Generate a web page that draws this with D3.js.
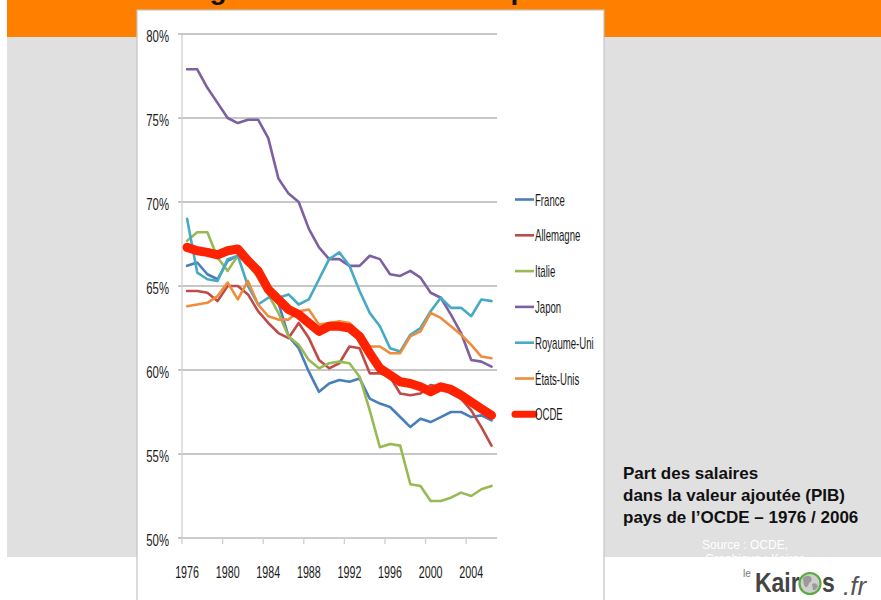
<!DOCTYPE html>
<html><head><meta charset="utf-8">
<script src="https://cdn.jsdelivr.net/npm/d3@7"></script>
<style>html,body{margin:0;padding:0;background:#fff;overflow:hidden}svg{display:block}</style>
</head><body>
<svg id="c" width="881" height="600"></svg>
<script>
const years = [1976,1977,1978,1979,1980,1981,1982,1983,1984,1985,1986,1987,1988,1989,1990,1991,1992,1993,1994,1995,1996,1997,1998,1999,2000,2001,2002,2003,2004,2005,2006];
const xTickLabels = [1976,1980,1984,1988,1992,1996,2000,2004];
const yTicks = [50,55,60,65,70,75,80];
const seriesNames = ["France","Allemagne","Italie","Japon","Royaume-Uni","États-Unis","OCDE"];
const seriesColors = ["#4a7ebb","#be4b48","#98b954","#7d60a0","#46aac5","#ee8c3e","#ff2200"];
const france    = [66.2,66.4,65.7,65.4,66.5,66.8,66.4,65.8,64.9,64.0,62.0,61.3,59.9,58.7,59.2,59.4,59.3,59.5,58.3,58.0,57.8,57.2,56.6,57.1,56.9,57.2,57.5,57.5,57.2,57.3,57.0];
const allemagne = [64.7,64.7,64.6,64.1,65.0,65.0,64.5,63.5,62.8,62.2,61.9,62.8,61.9,60.6,60.1,60.4,61.4,61.3,59.8,59.8,59.6,58.6,58.5,58.6,59.1,59.0,58.6,58.3,57.6,56.6,55.5];
const italie    = [67.7,68.2,68.2,66.7,65.9,66.8,66.3,65.5,64.5,63.4,62.0,61.5,60.6,60.1,60.4,60.5,60.4,59.6,57.6,55.4,55.6,55.5,53.2,53.1,52.2,52.2,52.4,52.7,52.5,52.9,53.1];
const japon     = [77.9,77.9,76.8,75.9,75.0,74.7,74.9,74.9,73.8,71.4,70.5,70.0,68.4,67.3,66.6,66.6,66.2,66.2,66.8,66.6,65.7,65.6,65.9,65.5,64.6,64.3,63.3,62.2,60.6,60.5,60.2];
const royaumeUni= [69.0,65.8,65.4,65.3,66.6,66.8,65.0,63.9,64.3,64.3,64.5,63.9,64.2,65.4,66.6,67.0,66.2,64.7,63.4,62.6,61.3,61.1,62.1,62.5,63.5,64.3,63.7,63.7,63.2,64.2,64.1];
const etatsUnis = [63.8,63.9,64.0,64.4,65.2,64.2,65.3,63.9,63.2,63.0,63.0,63.5,63.6,62.7,62.8,62.9,62.8,62.2,61.4,61.4,61.0,61.0,62.0,62.3,63.4,63.1,62.6,62.1,61.5,60.8,60.7];
const ocde      = [67.3,67.1,67.0,66.85,67.1,67.2,66.5,65.9,64.8,64.2,63.6,63.3,62.8,62.3,62.6,62.6,62.5,62.0,61.0,60.1,59.7,59.3,59.2,59.0,58.7,59.0,58.85,58.5,58.1,57.7,57.3];
const seriesValues = [france,allemagne,italie,japon,royaumeUni,etatsUnis,ocde];
const boxLines = ["Part des salaires","dans la valeur ajoutée (PIB)","pays de l’OCDE – 1976 / 2006"];
const sourceLines = ["Source : OCDE,","Graphique : Kairos"];

const svg = d3.select("#c");
const FONT = "'Liberation Sans', Arial, sans-serif";

// slide background
svg.append("rect").attr("x",7).attr("y",0).attr("width",874).attr("height",37).attr("fill","#ff7f00");
svg.append("rect").attr("x",7).attr("y",37).attr("width",874).attr("height",520).attr("fill","#e0e0e0");

// slide title (only its descenders are visible at the top edge)
const p1 = "Une baisse générale", p2 = " en Europe";
const tt = svg.append("text").attr("y",-1).attr("font-family",FONT).attr("font-weight","bold")
  .attr("font-size",28).attr("fill","#111");
const s1 = tt.append("tspan").attr("x",0).text(p1);
const s2 = tt.append("tspan").text(p2);
(function(){
  const n = tt.node();
  const gi = p1.indexOf("g");
  const ge = n.getExtentOfChar(gi);
  const s2start = n.getStartPositionOfChar(p1.length).x;
  const pi = p1.length + p2.indexOf("p");
  const pe = n.getExtentOfChar(pi);
  s1.attr("x", 218 - (ge.x + ge.width/2));
  s2.attr("x", 519 - (pe.x + pe.width/2 - s2start));
})();

// chart panel
svg.append("rect").attr("x",137).attr("y",10).attr("width",467).attr("height",600)
  .attr("fill","#fff").attr("stroke","#c4c4c4").attr("stroke-width",1.2);

const x = d3.scaleBand().domain(years).range([182,496.6]).padding(0);
const y = d3.scaleLinear().domain([50,80]).range([538,34]);
const bw = x.bandwidth();

// gridlines
svg.append("g").selectAll("line").data(yTicks).join("line")
  .attr("x1",178).attr("x2",497).attr("y1",d=>y(d)).attr("y2",d=>y(d))
  .attr("stroke","#b5b5b5").attr("stroke-width",1.3);
// y axis line
svg.append("line").attr("x1",182).attr("x2",182).attr("y1",y(80)).attr("y2",y(50))
  .attr("stroke","#cfcfcf").attr("stroke-width",1.3);
// y labels
svg.append("g").selectAll("text").data(yTicks).join("text")
  .attr("transform",d=>`translate(169,${y(d)+8}) scale(0.69,1)`)
  .attr("text-anchor","end").attr("font-family",FONT).attr("font-size",16.5).attr("fill","#1a1a1a")
  .text(d=>d+"%");

// x axis
const xAxis = d3.axisBottom(x).tickValues(xTickLabels).tickSize(0).tickPadding(0);
const xg = svg.append("g").attr("transform","translate(0,538)").call(xAxis);
xg.select(".domain").remove();
xg.selectAll("text").attr("font-family",FONT).attr("font-size",16.5).attr("fill","#1a1a1a")
  .attr("dy",null).attr("y",null)
  .attr("transform","translate(0,40) scale(0.65,1)")
  .attr("x",0);
xg.selectAll(".tick").attr("transform",d=>`translate(${x(d)+bw/2},0)`);
svg.append("line").attr("x1",182).attr("x2",497).attr("y1",538).attr("y2",538)
  .attr("stroke","#cfcfcf").attr("stroke-width",1.3);
svg.append("g").selectAll("line").data(xTickLabels).join("line")
  .attr("x1",d=>x(d)).attr("x2",d=>x(d)).attr("y1",538).attr("y2",544)
  .attr("stroke","#cfcfcf").attr("stroke-width",1.3);

// lines
const line = d3.line().x((v,i)=>x(years[i])+bw/2).y(v=>y(v));
svg.append("g").selectAll("path").data(seriesValues).join("path")
  .attr("d",d=>line(d)).attr("fill","none")
  .attr("stroke",(d,i)=>seriesColors[i])
  .attr("stroke-width",(d,i)=>i===6?9:2.6)
  .attr("stroke-linejoin","round").attr("stroke-linecap","round");

// legend
const lg = svg.append("g").selectAll("g").data(seriesNames).join("g")
  .attr("transform",(d,i)=>`translate(515,${199.5+i*35.8})`);
lg.append("line").attr("x1",0).attr("x2",19).attr("y1",0).attr("y2",0)
  .attr("stroke",(d,i)=>seriesColors[i]).attr("stroke-width",(d,i)=>i===6?7:2.6)
  .attr("stroke-linecap",(d,i)=>i===6?"round":"butt");
lg.append("text").attr("transform","translate(20,6) scale(0.6,1)")
  .attr("font-family",FONT).attr("font-size",16).attr("fill","#1a1a1a").text(d=>d);

// caption box text
svg.append("g").selectAll("text").data(boxLines).join("text")
  .attr("x",623).attr("y",(d,i)=>479+i*21.8)
  .attr("font-family",FONT).attr("font-weight","bold").attr("font-size",17).attr("fill","#111")
  .text(d=>d);
svg.append("g").selectAll("text").data(sourceLines).join("text")
  .attr("x",(d,i)=>702+i*3).attr("y",(d,i)=>549+i*14)
  .attr("font-family",FONT).attr("font-size",12).attr("fill","#fff").text(d=>d);

// logo
svg.append("text").attr("x",743).attr("y",577).attr("font-family",FONT).attr("font-size",10)
  .attr("fill","#777").text("le");
svg.append("text").attr("transform","translate(755,592) scale(0.82,1)").attr("font-family",FONT)
  .attr("font-weight","bold").attr("font-size",28).attr("fill","#444").text("Kair");
svg.append("circle").attr("cx",810).attr("cy",583.5).attr("r",10.5).attr("fill","#cfcfcf")
  .attr("stroke","#5aaa3c").attr("stroke-width",2.2);
svg.append("path").attr("d","M803,578 q4,-4 8,-1 q2,4 -2,6 q-1,5 -4,4 q-2,-4 -2,-9 Z M812,584 q4,-2 6,2 q-2,5 -5,4 Z")
  .attr("fill","#9a9a9a");
svg.append("text").attr("transform","translate(822,592) scale(0.82,1)").attr("font-family",FONT)
  .attr("font-weight","bold").attr("font-size",28).attr("fill","#444").text("s");
svg.append("text").attr("x",843).attr("y",595).attr("font-family",FONT).attr("font-style","italic")
  .attr("font-size",26).attr("fill","#555").text(".fr");
</script>
</body></html>
